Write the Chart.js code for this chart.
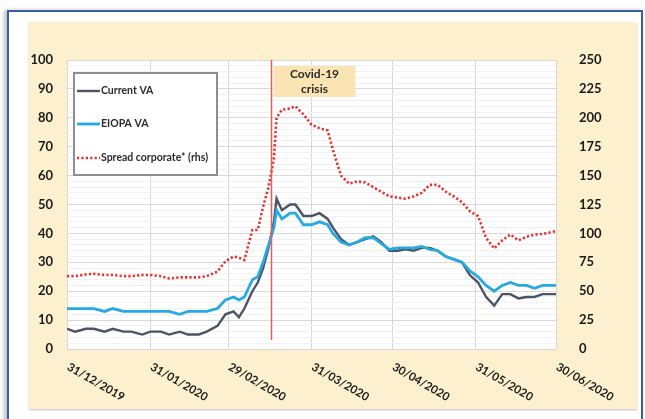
<!DOCTYPE html>
<html><head><meta charset="utf-8">
<script src="https://cdn.jsdelivr.net/npm/chart.js@4.4.1/dist/chart.umd.min.js"></script>
<style>
html,body{margin:0;padding:0;background:#fff;width:645px;height:419px;overflow:hidden;}
#frame{position:absolute;left:7px;top:10px;width:636px;height:430px;border:2px solid #3B5CA6;box-sizing:border-box;box-shadow:-3px 0 4px rgba(0,0,0,0.25);}
#panel{position:absolute;left:29px;top:22px;width:608px;height:387px;background:#FDF0CF;box-shadow:0 1px 2px rgba(0,0,0,0.25);}
#wrap{position:absolute;left:0;top:0;width:645px;height:419px;}
</style></head><body>
<div id="frame"></div><div id="panel"></div>
<div id="wrap"><canvas id="c" width="645" height="419"></canvas></div>
<script>
// ---- data ----
const dates = ["2019-12-31","2020-01-03","2020-01-07","2020-01-10","2020-01-14","2020-01-17","2020-01-21","2020-01-24","2020-01-28","2020-01-31","2020-02-04","2020-02-07","2020-02-11","2020-02-14","2020-02-18","2020-02-21","2020-02-25","2020-02-28","2020-03-02","2020-03-04","2020-03-06","2020-03-09","2020-03-11","2020-03-13","2020-03-15","2020-03-17","2020-03-18","2020-03-20","2020-03-23","2020-03-25","2020-03-28","2020-03-31","2020-04-03","2020-04-06","2020-04-08","2020-04-11","2020-04-14","2020-04-17","2020-04-20","2020-04-23","2020-04-26","2020-04-29","2020-05-02","2020-05-05","2020-05-08","2020-05-11","2020-05-14","2020-05-17","2020-05-20","2020-05-23","2020-05-26","2020-05-29","2020-06-01","2020-06-04","2020-06-07","2020-06-10","2020-06-13","2020-06-16","2020-06-19","2020-06-22","2020-06-25","2020-06-28","2020-06-30"];
const currentVA = [7,6,7,7,6,7,6,6,5,6, 6,5,6,5,5,6,8,12,13,11, 14,20,23,28,35,44,52,48,50,50, 46,46,47,45,42,38,36,37,38,39, 37,34,34,34.5,34,35,35,34,32,31, 30,25.5,23,18,15,19,19,17.5,18,18, 19,19,19];
const eiopaVA = [14,14,14,14,13,14,13,13,13,13, 13,13,12,13,13,13,14,17,18,17, 18,24,25,30,36,42,48,45,47,47, 43,43,44,43,40,37,36,37,38.5,38.5, 36.5,34.5,35,35,35,35.5,34.5,34,32,31, 30,27,25,22,20,22,23,22,22,21, 22,22,22];
const spreadCorporate = [63,63,64.5,65,64,64,63,63,64,64, 63,61,62,62,62,63,67,76,80,79, 77,103,103,123,140,165,200,207,208,210, 203,194,191,189,172,150,143,145,144,140, 136,132,131,130,132,135,142,142,136,132, 127,119,115,96,87,94,99,94,97,99, 99.5,101,102];
const seriesNames = ["Current VA","EIOPA VA","Spread corporate* (rhs)"];
const xTickDates = ["2019-12-31","2020-01-31","2020-02-29","2020-03-31","2020-04-30","2020-05-31","2020-06-30"];
const covidDate = "2020-03-16";
const covidLabel = ["Covid-19","crisis"];

// ---- helpers ----
const BASE = Date.UTC(2019,11,31);
function dayNum(s){const p=s.split('-').map(Number);return (Date.UTC(p[0],p[1]-1,p[2])-BASE)/86400000;}
function fmt(s){const p=s.split('-');return p[2]+'/'+p[1]+'/'+p[0];}
const xs = dates.map(dayNum);
const pts = arr => arr.map((v,i)=>({x:xs[i],y:v}));
const tickDays = xTickDates.map(dayNum);
const FONT = "Lato, 'Open Sans', sans-serif";

const overlay = {
  id:'overlay',
  afterDatasetsDraw(chart){
    const ctx=chart.ctx, xS=chart.scales.x, ca=chart.chartArea;
    const cx = Math.round(xS.getPixelForValue(dayNum(covidDate)))+0.5;
    ctx.save();
    ctx.strokeStyle='#E35D5D'; ctx.lineWidth=1.5;
    ctx.beginPath(); ctx.moveTo(cx,ca.top); ctx.lineTo(cx,ca.bottom-9); ctx.stroke();
    ctx.fillStyle='#FBE4B3';
    ctx.fillRect(cx+2, ca.top+6, 82, 31);
    ctx.fillStyle='#2b2b2b'; ctx.font="bold 12px "+FONT; ctx.textAlign='center'; ctx.textBaseline='middle';
    ctx.fillText(covidLabel[0], cx+43, ca.top+14);
    ctx.fillText(covidLabel[1], cx+43, ca.top+29);
    const lx=74, ly=73, lw=143, lh=102;
    ctx.fillStyle='#fff'; ctx.fillRect(lx,ly,lw,lh);
    ctx.strokeStyle='#8E8E8E'; ctx.lineWidth=2; ctx.strokeRect(lx,ly,lw,lh);
    const rowsY=[91,124,158];
    chart.data.datasets.forEach((ds)=>{
      const idx = seriesNames.indexOf(ds.label);
      const y = rowsY[idx];
      ctx.save();
      ctx.strokeStyle=ds.borderColor; ctx.lineWidth=ds.borderWidth;
      ctx.setLineDash(ds.borderDash||[]);
      ctx.beginPath(); ctx.moveTo(lx+3,y); ctx.lineTo(lx+26,y); ctx.stroke();
      ctx.restore();
      ctx.fillStyle='#2b2b2b'; ctx.font="bold 10.5px "+FONT; ctx.textAlign='left'; ctx.textBaseline='middle';
      ctx.fillText(ds.label, lx+27, y);
    });
    ctx.fillStyle='#1a1a1a'; ctx.font="bold 11.5px "+FONT; ctx.textAlign='left'; ctx.textBaseline='top';
    xTickDates.forEach((d)=>{
      const px = xS.getPixelForValue(dayNum(d));
      ctx.save(); ctx.translate(px+4, ca.bottom+12); ctx.rotate(30*Math.PI/180);
      ctx.fillText(fmt(d),0,0); ctx.restore();
    });
    ctx.restore();
  }
};

new Chart(document.getElementById('c'), {
  type:'line',
  data:{datasets:[
    {label:seriesNames[2], data:pts(spreadCorporate), yAxisID:'y1', borderColor:'#E5302C', borderWidth:2.6, borderDash:[2.2,2.2], pointRadius:0, tension:0, order:3},
    {label:seriesNames[0], data:pts(currentVA), yAxisID:'y', borderColor:'#4B5366', borderWidth:2.4, pointRadius:0, tension:0, order:2},
    {label:seriesNames[1], data:pts(eiopaVA), yAxisID:'y', borderColor:'#27A9E1', borderWidth:2.8, pointRadius:0, tension:0, order:1}
  ]},
  options:{
    responsive:false, animation:false, devicePixelRatio:1,
    layout:{padding:{top:60,left:0,right:0,bottom:0}},
    plugins:{legend:{display:false}, tooltip:{enabled:false}},
    scales:{
      x:{type:'linear', min:0, max:182,
        afterBuildTicks:s=>{s.ticks=tickDays.map(v=>({value:v}));},
        afterFit:s=>{s.height=70;},
        ticks:{display:false},
        grid:{color:'#D6D6D6', drawTicks:false, lineWidth:1},
        border:{display:false}},
      y:{position:'left', min:0, max:100,
        afterFit:s=>{s.width=67;},
        ticks:{stepSize:2, autoSkip:false, padding:14, color:'#1a1a1a', font:{family:FONT, size:13, weight:'bold'},
          callback:v=> v%10===0 ? v : ''},
        grid:{drawTicks:false, color:c=> (c.tick && c.tick.value%10===0) ? '#D9D9D9' : '#F1F1F1'},
        border:{display:false}},
      y1:{position:'right', min:0, max:250,
        afterFit:s=>{s.width=89;},
        ticks:{stepSize:25, autoSkip:false, padding:15, color:'#1a1a1a', font:{family:FONT, size:13, weight:'bold'}},
        grid:{display:false}, border:{display:false}}
    }
  },
  plugins:[{id:'bg', beforeDraw(chart){const {ctx,chartArea:a}=chart; ctx.save(); ctx.fillStyle='#fff'; ctx.fillRect(a.left,a.top,a.right-a.left,a.bottom-a.top); ctx.restore();}}, overlay]
});
</script>
</body></html>
